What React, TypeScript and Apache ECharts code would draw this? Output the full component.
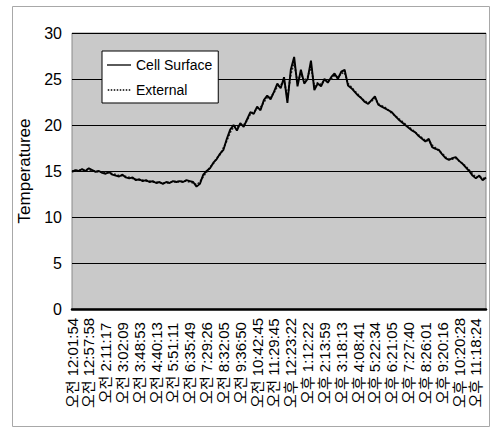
import React, { useEffect, useRef } from "react";
import * as echarts from "echarts";

const tickLabels = [
  "오전 12:01:54", "오전 12:57:58", "오전 2:11:17", "오전 3:02:09", "오전 3:48:53",
  "오전 4:40:13", "오전 5:51:11", "오전 6:35:49", "오전 7:29:26", "오전 8:32:05",
  "오전 9:36:50", "오전 10:42:45", "오전 11:29:45", "오후 12:23:22", "오후 1:12:22",
  "오후 2:13:59", "오후 3:18:13", "오후 4:08:41", "오후 5:22:34", "오후 6:21:05",
  "오후 7:27:40", "오후 8:26:01", "오후 9:20:16", "오후 10:20:28", "오후 11:18:24",
];

const cellSurface = [
  14.9, 15.1, 15.0, 15.2, 15.0, 15.3, 15.1, 14.9, 15.0, 14.8,
  14.7, 14.9, 14.6, 14.5, 14.4, 14.6, 14.3, 14.2, 14.3, 14.0,
  14.1, 13.9, 14.0, 13.8, 13.9, 13.7, 13.8, 13.6, 13.8, 13.7,
  13.9, 13.8, 13.9, 13.8, 14.0, 13.9, 13.8, 13.3, 13.6, 14.6,
  15.0, 15.3, 15.9, 16.3, 16.9, 17.3, 18.5, 19.5, 20.0, 19.4,
  20.2, 19.8, 20.6, 21.4, 21.2, 22.0, 21.6, 22.7, 23.2, 22.8,
  23.6, 24.5, 24.0, 25.2, 22.4, 26.0, 27.4, 24.2, 26.0, 24.5,
  25.0, 27.0, 23.8, 24.5, 24.2, 25.0, 24.6, 25.2, 25.6, 25.0,
  25.8, 26.0, 24.3, 24.0, 23.6, 23.2, 22.9, 22.5, 22.3, 22.7,
  23.1, 22.2, 22.0, 21.8, 21.6, 21.4, 21.0, 20.6, 20.3, 20.0,
  19.7, 19.4, 19.2, 18.8, 18.5, 18.2, 18.5, 17.6, 17.4, 17.3,
  16.8, 16.4, 16.2, 16.4, 16.5, 16.1, 15.8, 15.4, 15.0, 14.5,
  14.2, 14.5, 14.0, 14.3,
];

const external = [
  15.0, 15.0, 15.1, 15.1, 15.1, 15.2, 15.0, 15.0, 14.9, 14.9,
  14.8, 14.8, 14.7, 14.6, 14.5, 14.5, 14.4, 14.3, 14.2, 14.1,
  14.0, 14.0, 13.9, 13.9, 13.8, 13.8, 13.7, 13.7, 13.7, 13.8,
  13.8, 13.9, 13.8, 13.9, 13.9, 13.8, 13.7, 13.5, 13.8, 14.4,
  14.9, 15.4, 15.8, 16.4, 16.8, 17.5, 18.3, 19.2, 19.8, 19.7,
  20.0, 20.0, 20.5, 21.2, 21.4, 21.8, 21.9, 22.5, 23.0, 23.0,
  23.5, 24.2, 24.3, 24.8, 23.0, 25.5, 26.8, 24.6, 25.6, 24.8,
  25.2, 26.4, 24.2, 24.6, 24.4, 24.9, 24.8, 25.0, 25.4, 25.2,
  25.6, 25.7, 24.5, 24.1, 23.7, 23.3, 22.9, 22.6, 22.4, 22.6,
  22.9, 22.3, 22.1, 21.9, 21.6, 21.3, 21.0, 20.7, 20.4, 20.1,
  19.8, 19.5, 19.2, 18.9, 18.6, 18.3, 18.3, 17.8, 17.5, 17.2,
  16.9, 16.5, 16.3, 16.3, 16.4, 16.1, 15.8, 15.5, 15.1, 14.7,
  14.3, 14.4, 14.2, 14.2,
];

const yTicks = { min: 0, max: 30, interval: 5 };
const categories = cellSurface.map((_, i) => String(i));
const FONT = "'Liberation Sans', Arial, 'Noto Sans CJK KR', sans-serif";

const SOLID_ICON = "path://M0,0H24V1.3H0Z";
const DOTTED_ICON =
  "path://M0,0H1.5V1.3H0ZM3,0H4.5V1.3H3ZM6,0H7.5V1.3H6ZM9,0H10.5V1.3H9ZM12,0H13.5V1.3H12ZM15,0H16.5V1.3H15ZM18,0H19.5V1.3H18ZM21,0H22.5V1.3H21Z";

export default function App() {
  const ref = useRef<HTMLDivElement>(null);
  useEffect(() => {
    if (!ref.current) return;
    const chart = echarts.init(ref.current, undefined, { renderer: "svg" });
    chart.setOption({
      animation: false,
      backgroundColor: "#ffffff",
      textStyle: { fontFamily: FONT, color: "#000" },
      graphic: [
        {
          type: "rect",
          shape: { x: 12.5, y: 6.5, width: 477, height: 420 },
          style: { fill: "none", stroke: "#a8a8a8", lineWidth: 1 },
          silent: true,
        },
      ],
      grid: {
        left: 72,
        right: 10,
        top: 33,
        bottom: 120,
        show: true,
        backgroundColor: "#c9c9c9",
        borderColor: "#8a8a8a",
        borderWidth: 1,
      },
      legend: {
        orient: "vertical",
        left: 102,
        top: 51,
        backgroundColor: "#ffffff",
        borderColor: "#000",
        borderWidth: 1,
        borderRadius: 0,
        padding: [7, 6, 6, 5],
        itemWidth: 24,
        itemHeight: 1.3,
        itemGap: 11,
        textStyle: { fontSize: 14, color: "#000", fontFamily: FONT },
        data: [
          { name: "Cell Surface", icon: SOLID_ICON, itemStyle: { color: "#000" } },
          { name: "External", icon: DOTTED_ICON, itemStyle: { color: "#000" } },
        ],
      },
      xAxis: {
        type: "category",
        boundaryGap: false,
        data: categories,
        axisLine: { show: true, lineStyle: { color: "#000", width: 2.5 } },
        axisTick: { show: false },
        splitLine: { show: false },
        axisLabel: {
          interval: 4,
          rotate: 90,
          align: "center",
          verticalAlign: "middle",
          margin: 54,
          fontSize: 15,
          color: "#000",
          fontFamily: FONT,
          formatter: (_v: string, i: number) =>
            i % 5 === 0 ? tickLabels[i / 5] ?? "" : "",
        },
      },
      yAxis: {
        type: "value",
        min: yTicks.min,
        max: yTicks.max,
        interval: yTicks.interval,
        name: "Temperaturee",
        nameLocation: "middle",
        nameGap: 31,
        nameRotate: 90,
        nameTextStyle: { fontSize: 17, color: "#000", fontFamily: FONT },
        axisLine: { show: false },
        axisTick: { show: false },
        axisLabel: { fontSize: 16, color: "#000", margin: 10, fontFamily: FONT },
        splitLine: { show: true, lineStyle: { color: "#000", width: 1 } },
      },
      series: [
        {
          name: "External",
          type: "line",
          data: external,
          symbol: "none",
          lineStyle: { color: "#222", width: 1.8, type: "dotted" },
          itemStyle: { color: "#222" },
        },
        {
          name: "Cell Surface",
          type: "line",
          data: cellSurface,
          symbol: "none",
          lineStyle: { color: "#000", width: 1.9 },
          itemStyle: { color: "#000" },
        },
      ],
    });
    return () => chart.dispose();
  }, []);
  return (
    <div
      ref={ref}
      style={{ position: "fixed", left: 0, top: 0, width: 496, height: 429 }}
    />
  );
}
